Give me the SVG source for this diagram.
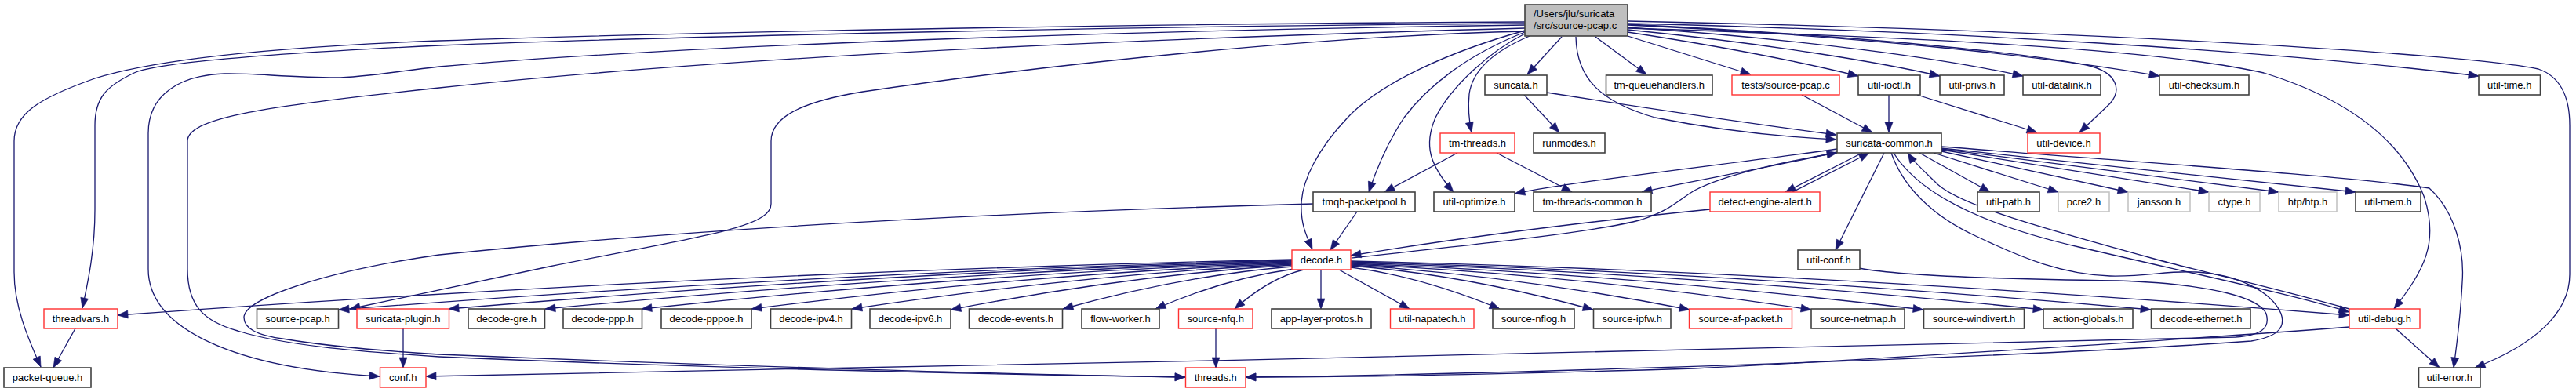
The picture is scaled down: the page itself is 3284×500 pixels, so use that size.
<svg xmlns="http://www.w3.org/2000/svg" width="3284" height="500" viewBox="0 0 3284 500">
<style>
.node rect{fill:#fff;stroke:#404040;stroke-width:1.6}
.node.r rect{stroke:#ff3030;stroke-width:1.4}
.node.g rect{stroke:#c4c4c4;stroke-width:1.6}
.node.root rect{fill:#bfbfbf}
.node text{font-family:"Liberation Sans",Arial,sans-serif;font-size:13px;fill:#000;text-anchor:middle}
.node.root text{text-anchor:start}
#edges path{fill:none;stroke:#191970;stroke-width:1.3;marker-end:url(#arr)}
</style>
<defs>
<marker id="arr" markerUnits="userSpaceOnUse" markerWidth="14" markerHeight="11" refX="13" refY="5" orient="auto" overflow="visible">
<path d="M0,0 L13,5 L0,10 z" fill="#191970" stroke="#191970" stroke-width="0.6"/>
</marker>
</defs>
<rect width="3284" height="500" fill="#fff"/>
<g id="edges">
<!-- root to left side -->
<path d="M1944,28 C1500,30 900,40 560,52 C350,60 200,75 121,100 C50,125 18,145 18,180 L18,347 C18,390 35,430 52,468"/>
<path d="M1944,30 C1500,33 900,45 560,58 C350,68 200,80 171,93 C135,110 121,125 121,160 L121,267 C121,320 112,360 105,393"/>
<path d="M1944,32 C1500,38 900,55 560,85 C500,92 460,99 428,99 C370,99 320,93 286,94 C230,96 189,120 189,170 L189,343 C189,420 300,470 484,480"/>
<path d="M1944,36 C1500,48 950,70 560,112 C340,135 239,150 239,180 L239,343 C239,390 260,410 303,422 C360,440 450,448 560,455 C900,470 1300,478 1511,481"/>
<path d="M1944,40 C1700,45 1350,80 1100,117 C1020,130 983,150 983,180 L983,260 C983,290 900,300 700,340 L446,394"/>
<path d="M1944,39 C1850,65 1760,105 1718,150 C1680,190 1660,230 1659,260 C1658,285 1665,300 1673,318"/>
<path d="M1944,41 C1870,70 1820,110 1790,150 C1770,180 1755,215 1745,245"/>
<path d="M1944,43 C1900,65 1850,110 1830,150 C1815,185 1822,210 1853,245"/>
<path d="M1950,46 C1905,65 1877,90 1873,120 C1871,140 1873,155 1876,169"/>
<path d="M1991,47 L1947,95"/>
<path d="M2034,47 L2099,95"/>
<path d="M2009,47 C2010,100 2040,130 2110,150 C2200,168 2280,175 2341,178"/>
<!-- root to right side -->
<path d="M2075,46 L2232,95"/>
<path d="M2075,41 C2200,60 2300,80 2369,97"/>
<path d="M2075,38 C2250,55 2400,80 2473,97"/>
<path d="M2075,35 C2300,50 2480,75 2579,97"/>
<path d="M2075,32 C2350,45 2600,70 2753,97"/>
<path d="M2075,30 C2500,40 2900,65 3160,97"/>
<path d="M2075,31 C2300,42 2550,62 2660,83 C2700,92 2705,115 2690,132 L2651,169"/>
<path d="M2075,36 C2450,48 2750,62 2886,93 C2990,125 3060,175 3090,250 C3110,310 3090,345 3052,394"/>
<path d="M2075,27 C2700,40 3150,70 3236,88 C3265,98 3276,125 3276,160 L3276,350 C3276,400 3230,440 3155,469"/>
<!-- row 2 -->
<path d="M1943,121 L1988,169"/>
<path d="M1972,118 C2100,138 2250,160 2341,172"/>
<path d="M2297,121 L2387,169"/>
<path d="M2408,121 L2408,169"/>
<path d="M2444,121 L2597,169"/>
<!-- tm-threads -->
<path d="M1858,195 L1765,245"/>
<path d="M1908,195 L2004,245"/>
<!-- suricata-common out -->
<path d="M2342,190 C2200,210 2000,232 1931,247"/>
<path d="M2342,194 C2250,215 2150,232 2093,245"/>
<path d="M2374,195 L2276,245"/>
<path d="M2285,245 L2383,195"/>
<path d="M2402,195 L2340,319"/>
<path d="M2447,195 L2537,245"/>
<path d="M2465,195 L2624,245"/>
<path d="M2475,193 L2713,245"/>
<path d="M2475,191 L2816,245"/>
<path d="M2475,190 L2905,245"/>
<path d="M2475,189 L3003,245"/>
<path d="M2475,187 C2700,205 3000,225 3097,240 C3130,270 3142,320 3139,360 C3137,400 3132,440 3128,469"/>
<path d="M2414,195 C2445,245 2520,285 2650,315 C2800,350 2920,375 2995,398"/>
<path d="M2995,394 C2880,362 2800,345 2746,330 C2600,290 2500,262 2470,235 C2455,220 2440,207 2432,195"/>
<path d="M2411,195 C2425,235 2460,275 2523,303 C2580,330 2630,350 2690,352 C2740,353 2760,345 2800,347 C2850,350 2895,370 2908,400 C2915,420 2900,430 2870,435 C2600,455 1900,478 1588,481"/>
<!-- decode in -->
<path d="M1730,270 L1696,319"/>
<path d="M2180,267 C2000,285 1850,305 1722,326"/>
<path d="M1723,329 C1900,310 2040,295 2093,280 C2130,268 2140,255 2160,243 C2200,222 2280,205 2342,195"/>
<!-- tmqh to threads -->
<path d="M1674,260 C1300,270 900,290 560,325 C420,345 311,380 311,405 C311,420 330,428 360,432 C420,442 480,447 560,452 C900,466 1300,478 1511,481"/>
<!-- decode out left -->
<path d="M1647,331 C1148,342 649,366 150,402"/>
<path d="M1647,332 C1242,342 837,364 432,395"/>
<path d="M1647,333 C1289,342 930,364 572,394"/>
<path d="M1647,334 C1330,343 1012,364 695,394"/>
<path d="M1647,335 C1371,344 1094,365 818,394"/>
<path d="M1647,336 C1417,345 1188,365 958,394"/>
<path d="M1647,337 C1460,346 1273,366 1086,394"/>
<path d="M1647,338 C1502,347 1357,367 1212,395"/>
<path d="M1647,340 C1550,348 1452,367 1355,394"/>
<path d="M1650,343 C1591,351 1532,368 1473,394"/>
<path d="M1662,344 C1633,351 1603,368 1574,394"/>
<!-- decode out right -->
<path d="M1684,344 L1684,394"/>
<path d="M1707,344 L1797,394"/>
<path d="M1722,341 C1785,349 1849,368 1912,394"/>
<path d="M1722,339 C1825,347 1928,367 2031,395"/>
<path d="M1722,338 C1866,347 2010,367 2154,395"/>
<path d="M1722,337 C1918,346 2113,366 2309,395"/>
<path d="M1722,336 C1965,345 2209,366 2452,395"/>
<path d="M1722,335 C2016,344 2311,365 2605,395"/>
<path d="M1722,334 C2062,343 2402,365 2742,395"/>
<path d="M1722,333 C2146,343 2571,368 2995,402"/>
<!-- lower -->
<path d="M2370,342 C2420,352 2550,356 2700,358 C2820,362 2880,380 2889,400 C2895,420 2880,428 2850,430 C2400,442 1200,468 543,480"/>
<path d="M2995,417 C2800,432 2400,458 2160,470 C1900,478 1700,481 1588,481"/>
<path d="M3054,419 L3110,469"/>
<path d="M1550,419 L1550,469"/>
<path d="M514,419 L514,469"/>
<path d="M96,419 L68,469"/>
</g>
<g id="n_root" class="node root"><rect x="1944" y="6" width="131" height="40"/><text x="1955" y="22">/Users/jlu/suricata</text><text x="1955" y="37">/src/source-pcap.c</text></g>
<g id="n_suricata_h" class="node"><rect x="1893" y="96" width="79" height="25"/><text x="1932.5" y="113">suricata.h</text></g>
<g id="n_tm_queuehandlers_h" class="node"><rect x="2047.5" y="96" width="135.5" height="25"/><text x="2115.25" y="113">tm-queuehandlers.h</text></g>
<g id="n_tests_source_pcap_c" class="node r"><rect x="2208" y="96" width="137" height="25"/><text x="2276.5" y="113">tests/source-pcap.c</text></g>
<g id="n_util_ioctl_h" class="node"><rect x="2369" y="96" width="79" height="25"/><text x="2408.5" y="113">util-ioctl.h</text></g>
<g id="n_util_privs_h" class="node"><rect x="2473" y="96" width="82" height="25"/><text x="2514" y="113">util-privs.h</text></g>
<g id="n_util_datalink_h" class="node"><rect x="2579" y="96" width="99" height="25"/><text x="2628.5" y="113">util-datalink.h</text></g>
<g id="n_util_checksum_h" class="node"><rect x="2753" y="96" width="114" height="25"/><text x="2810" y="113">util-checksum.h</text></g>
<g id="n_util_time_h" class="node"><rect x="3160" y="96" width="78.5" height="25"/><text x="3199.25" y="113">util-time.h</text></g>
<g id="n_tm_threads_h" class="node r"><rect x="1836" y="170" width="95" height="25"/><text x="1883.5" y="187">tm-threads.h</text></g>
<g id="n_runmodes_h" class="node"><rect x="1955" y="170" width="91" height="25"/><text x="2000.5" y="187">runmodes.h</text></g>
<g id="n_suricata_common_h" class="node"><rect x="2342" y="170" width="133" height="25"/><text x="2408.5" y="187">suricata-common.h</text></g>
<g id="n_util_device_h" class="node r"><rect x="2585" y="170" width="92" height="25"/><text x="2631" y="187">util-device.h</text></g>
<g id="n_tmqh_packetpool_h" class="node"><rect x="1674" y="245" width="130" height="25"/><text x="1739" y="262">tmqh-packetpool.h</text></g>
<g id="n_util_optimize_h" class="node"><rect x="1828" y="245" width="103" height="25"/><text x="1879.5" y="262">util-optimize.h</text></g>
<g id="n_tm_threads_common_h" class="node"><rect x="1955" y="245" width="150" height="25"/><text x="2030" y="262">tm-threads-common.h</text></g>
<g id="n_detect_engine_alert_h" class="node r"><rect x="2180" y="245" width="140" height="25"/><text x="2250" y="262">detect-engine-alert.h</text></g>
<g id="n_util_path_h" class="node"><rect x="2521" y="245" width="79" height="25"/><text x="2560.5" y="262">util-path.h</text></g>
<g id="n_pcre2_h" class="node g"><rect x="2624" y="245" width="65" height="25"/><text x="2656.5" y="262">pcre2.h</text></g>
<g id="n_jansson_h" class="node g"><rect x="2713" y="245" width="79" height="25"/><text x="2752.5" y="262">jansson.h</text></g>
<g id="n_ctype_h" class="node g"><rect x="2816" y="245" width="65" height="25"/><text x="2848.5" y="262">ctype.h</text></g>
<g id="n_htp_htp_h" class="node g"><rect x="2905" y="245" width="74" height="25"/><text x="2942" y="262">htp/htp.h</text></g>
<g id="n_util_mem_h" class="node"><rect x="3003" y="245" width="83" height="25"/><text x="3044.5" y="262">util-mem.h</text></g>
<g id="n_decode_h" class="node r"><rect x="1647" y="319" width="75" height="25"/><text x="1684.5" y="336">decode.h</text></g>
<g id="n_util_conf_h" class="node"><rect x="2292" y="319" width="79" height="25"/><text x="2331.5" y="336">util-conf.h</text></g>
<g id="n_threadvars_h" class="node r"><rect x="56" y="394" width="94" height="25"/><text x="103" y="411">threadvars.h</text></g>
<g id="n_source_pcap_h" class="node"><rect x="327.5" y="394" width="104" height="25"/><text x="379.5" y="411">source-pcap.h</text></g>
<g id="n_suricata_plugin_h" class="node r"><rect x="455" y="394" width="117.5" height="25"/><text x="513.75" y="411">suricata-plugin.h</text></g>
<g id="n_decode_gre_h" class="node"><rect x="597" y="394" width="97.5" height="25"/><text x="645.75" y="411">decode-gre.h</text></g>
<g id="n_decode_ppp_h" class="node"><rect x="718" y="394" width="100.5" height="25"/><text x="768.25" y="411">decode-ppp.h</text></g>
<g id="n_decode_pppoe_h" class="node"><rect x="843" y="394" width="115" height="25"/><text x="900.5" y="411">decode-pppoe.h</text></g>
<g id="n_decode_ipv4_h" class="node"><rect x="982.5" y="394" width="103" height="25"/><text x="1034" y="411">decode-ipv4.h</text></g>
<g id="n_decode_ipv6_h" class="node"><rect x="1109" y="394" width="103" height="25"/><text x="1160.5" y="411">decode-ipv6.h</text></g>
<g id="n_decode_events_h" class="node"><rect x="1235.5" y="394" width="119" height="25"/><text x="1295" y="411">decode-events.h</text></g>
<g id="n_flow_worker_h" class="node"><rect x="1379" y="394" width="99" height="25"/><text x="1428.5" y="411">flow-worker.h</text></g>
<g id="n_source_nfq_h" class="node r"><rect x="1502.5" y="394" width="94.5" height="25"/><text x="1549.75" y="411">source-nfq.h</text></g>
<g id="n_app_layer_protos_h" class="node"><rect x="1621" y="394" width="127" height="25"/><text x="1684.5" y="411">app-layer-protos.h</text></g>
<g id="n_util_napatech_h" class="node r"><rect x="1772.5" y="394" width="106.5" height="25"/><text x="1825.75" y="411">util-napatech.h</text></g>
<g id="n_source_nflog_h" class="node"><rect x="1903" y="394" width="104" height="25"/><text x="1955" y="411">source-nflog.h</text></g>
<g id="n_source_ipfw_h" class="node"><rect x="2031.5" y="394" width="98.5" height="25"/><text x="2080.75" y="411">source-ipfw.h</text></g>
<g id="n_source_af_packet_h" class="node r"><rect x="2153.5" y="394" width="131" height="25"/><text x="2219" y="411">source-af-packet.h</text></g>
<g id="n_source_netmap_h" class="node"><rect x="2309" y="394" width="119" height="25"/><text x="2368.5" y="411">source-netmap.h</text></g>
<g id="n_source_windivert_h" class="node"><rect x="2452.5" y="394" width="128" height="25"/><text x="2516.5" y="411">source-windivert.h</text></g>
<g id="n_action_globals_h" class="node"><rect x="2605" y="394" width="114" height="25"/><text x="2662" y="411">action-globals.h</text></g>
<g id="n_decode_ethernet_h" class="node"><rect x="2742.5" y="394" width="126.5" height="25"/><text x="2805.75" y="411">decode-ethernet.h</text></g>
<g id="n_util_debug_h" class="node r"><rect x="2995" y="394" width="90" height="25"/><text x="3040" y="411">util-debug.h</text></g>
<g id="n_packet_queue_h" class="node"><rect x="5" y="469" width="111" height="25"/><text x="60.5" y="486">packet-queue.h</text></g>
<g id="n_conf_h" class="node r"><rect x="484.5" y="469" width="58.5" height="25"/><text x="513.75" y="486">conf.h</text></g>
<g id="n_threads_h" class="node r"><rect x="1511.5" y="469" width="76.5" height="25"/><text x="1549.75" y="486">threads.h</text></g>
<g id="n_util_error_h" class="node"><rect x="3083.5" y="469" width="78.5" height="25"/><text x="3122.75" y="486">util-error.h</text></g>
</svg>
